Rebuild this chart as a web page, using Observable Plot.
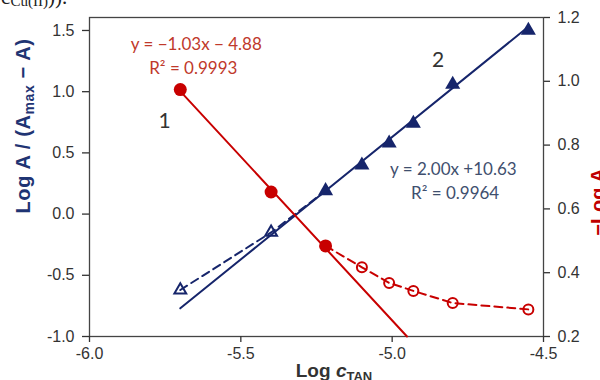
<!DOCTYPE html>
<html><head><meta charset="utf-8">
<script src="https://cdn.jsdelivr.net/npm/d3@7"></script>
<script src="https://cdn.jsdelivr.net/npm/@observablehq/plot@0.6"></script>
<style>
html,body{margin:0;padding:0;background:#fff;overflow:hidden;}
#chart{width:600px;height:380px;position:relative;}
</style></head><body><div id="chart"></div>
<script>
// ---- data ----
const logC      = [-5.70, -5.40, -5.22, -5.10, -5.01, -4.93, -4.80, -4.55];
const logRatio  = [-0.62, -0.15, 0.19, 0.40, 0.58, 0.74, 1.06, 1.50];   // curve 2, left axis
const negLogA   = [0.974, 0.653, 0.484, 0.417, 0.368, 0.343, 0.305, 0.285]; // curve 1, right axis
const blueHollow = [true, true, false, false, false, false, false, false];
const redHollow  = [false, false, false, true, true, true, true, true];
const blueFitX = [-5.70, -4.55];
const blueFitY = [-0.77, 1.53];
const redFitX  = [-5.705, -4.951];
const redFitY  = [0.974, 0.20];
const xTicks     = [-6.0, -5.5, -5.0, -4.5];
const leftTicks  = [-1.0, -0.5, 0.0, 0.5, 1.0, 1.5];
const rightTicks = [0.2, 0.4, 0.6, 0.8, 1.0, 1.2];
const redEq  = ["y = \u22121.03x \u2212 4.88", "R\u00B2 = 0.9993"];
const blueEq = ["y = 2.00x +10.63", "R\u00B2 = 0.9964"];
const curveLabels = ["1", "2"];

// ---- dual axis mapping ----
const L0 = -1, L1 = 1.606, R0 = 0.2, R1 = 1.2;
const toLeft = v => L0 + (v - R0) * (L1 - L0) / (R1 - R0);
const fromLeft = y => R0 + (y - L0) * (R1 - R0) / (L1 - L0);

const NAVY = "#16256B", RED = "#C80000";
const rows = logC.map((x, i) => ({x, blue: logRatio[i], red: toLeft(negLogA[i]), bh: blueHollow[i], rh: redHollow[i]}));
const blueFit = blueFitX.map((x, i) => ({x, y: blueFitY[i]}));
const redFit = redFitX.map((x, i) => ({x, y: toLeft(redFitY[i])}));

const F = "'Liberation Sans', Arial, sans-serif";
const FE = "Lato, 'Open Sans', sans-serif";

const chart = Plot.plot({
  width: 600, height: 380,
  marginLeft: 89, marginRight: 57, marginTop: 17, marginBottom: 44,
  style: {fontFamily: F, fontSize: "16px", color: "#333", background: "white"},
  x: {domain: [-6, -4.5]},
  y: {domain: [L0, L1]},
  marks: [
    Plot.frame({stroke: "#444", strokeWidth: 1.3}),
    Plot.axisX(xTicks, {tickFormat: d => d.toFixed(1), tickSize: 6, tickPadding: 5, label: null, strokeWidth: 1.3}),
    Plot.axisY(leftTicks, {anchor: "left", tickFormat: d => d.toFixed(1), tickSize: 7, tickPadding: 8, label: null, strokeWidth: 1.3}),
    Plot.axisY(rightTicks.map(toLeft), {anchor: "right", tickFormat: d => fromLeft(d).toFixed(1), tickSize: 6, tickPadding: 8, label: null, strokeWidth: 1.3}),
    // curve 2 (blue)
    Plot.line(blueFit, {x: "x", y: "y", stroke: NAVY, strokeWidth: 2}),
    Plot.line(rows.slice(0, 3), {x: "x", y: "blue", stroke: NAVY, strokeWidth: 2, strokeDasharray: "8,5"}),
    Plot.dot(rows.filter(d => !d.bh), {x: "x", y: "blue", symbol: "triangle", r: 5.6, fill: NAVY, stroke: "none"}),
    Plot.dot(rows.filter(d => d.bh), {x: "x", y: "blue", symbol: "triangle", r: 4.4, fill: "none", stroke: NAVY, strokeWidth: 2}),
    // curve 1 (red)
    Plot.line(redFit, {x: "x", y: "y", stroke: RED, strokeWidth: 2}),
    Plot.line(rows.slice(2), {x: "x", y: "red", stroke: RED, strokeWidth: 2, strokeDasharray: "8,5"}),
    Plot.dot(rows.filter(d => !d.rh), {x: "x", y: "red", r: 6.5, fill: RED, stroke: "none"}),
    Plot.dot(rows.filter(d => d.rh), {x: "x", y: "red", r: 5, fill: "none", stroke: RED, strokeWidth: 2}),
    // annotations
    Plot.text([redEq[0]], {x: -5.647, y: 1.386, text: d => d, fill: "#C0392B", fontSize: 17, fontFamily: FE}),
    Plot.text([redEq[1]], {x: -5.657, y: 1.190, text: d => d, fill: "#C0392B", fontSize: 17, fontFamily: FE}),
    Plot.text([blueEq[0]], {x: -4.798, y: 0.364, text: d => d, fill: "#3F4F6E", fontSize: 17, fontFamily: FE}),
    Plot.text([blueEq[1]], {x: -4.792, y: 0.168, text: d => d, fill: "#3F4F6E", fontSize: 17, fontFamily: FE}),
    Plot.text([curveLabels[0]], {x: -5.752, y: 0.757, text: d => d, fill: "#333", fontSize: 21, fontFamily: FE}),
    Plot.text([curveLabels[1]], {x: -4.848, y: 1.255, text: d => d, fill: "#333", fontSize: 21, fontFamily: FE})
  ]
});
document.getElementById("chart").appendChild(chart);

// ---- titles with subscripts ----
const svg = d3.select(chart);
const lt = svg.append("text")
  .attr("transform", "translate(30,126) rotate(-90)")
  .attr("text-anchor", "middle").attr("fill", "#1F3473")
  .style("font", `bold 20px ${F}`).style("letter-spacing", "0.6px");
lt.append("tspan").text("Log A / (A");
lt.append("tspan").attr("dy", 4).style("font-size", "14px").text("max");
lt.append("tspan").attr("dy", -4).text(" \u2212 A)");

svg.append("text")
  .attr("transform", "translate(605,202) rotate(-90)")
  .attr("text-anchor", "middle").attr("fill", "#C00000")
  .style("font", `bold 20px ${F}`)
  .text("\u2212Log A");

const bt = svg.append("text")
  .attr("x", 334).attr("y", 377)
  .attr("text-anchor", "middle").attr("fill", "#333")
  .style("font", `bold 19px ${F}`);
bt.append("tspan").text("Log ");
bt.append("tspan").style("font-style", "italic").text("c");
bt.append("tspan").attr("dy", 4).style("font-size", "13px").text("TAN");

const tt = svg.append("text")
  .attr("x", 0).attr("y", 4)
  .attr("fill", "#222")
  .style("font", "21px 'Liberation Serif', 'Times New Roman', serif");
tt.append("tspan").text("(c");
tt.append("tspan").attr("dy", 2).style("font-size", "15px").text("TAN");
tt.append("tspan").attr("dy", -2).text(" = c");
tt.append("tspan").attr("dy", 2).style("font-size", "15px").text("Cu(II)");
tt.append("tspan").attr("dy", -2).text(")).");
</script></body></html>
